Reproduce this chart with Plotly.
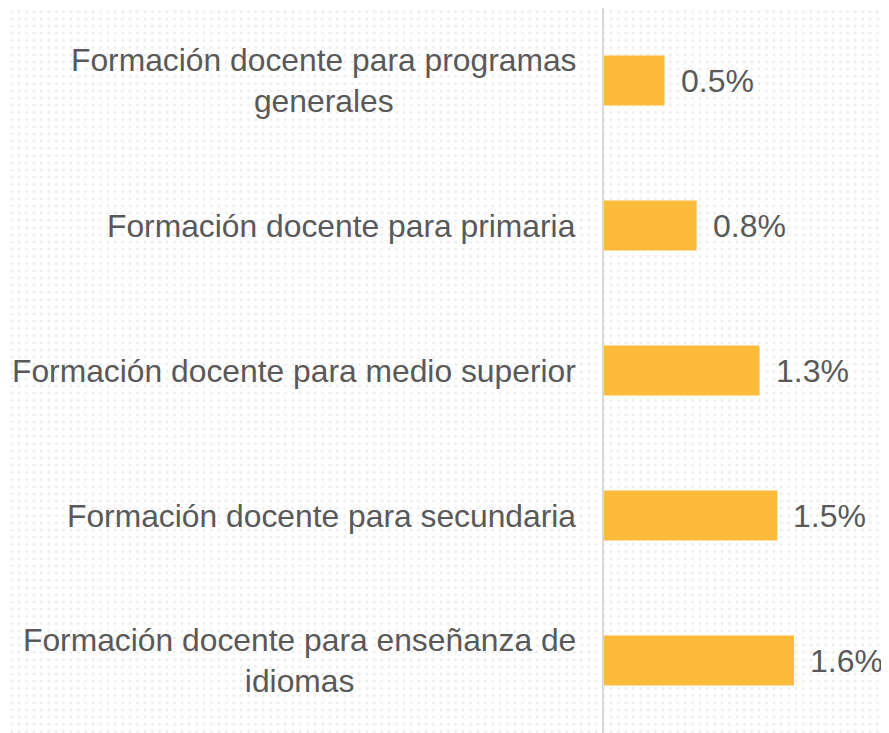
import base64

import plotly.graph_objects as go

categories = [
    "Formación docente para enseñanza de<br>idiomas",
    "Formación docente para secundaria",
    "Formación docente para medio superior",
    "Formación docente para primaria",
    "Formación docente para programas<br>generales",
]
values = [1.6, 1.46, 1.31, 0.78, 0.51]
labels = ["1.6%", "1.5%", "1.3%", "0.8%", "0.5%"]

BAR = "#FDBB3B"
TEXT = "#595959"
FONT = "Liberation Sans, Arial, sans-serif"

# page body has an 8px margin, so the figure is 8px smaller each way
W, H = 881, 725
L = 596

# faint dotted background, as in the original slide
svg = (
    f'<svg xmlns="http://www.w3.org/2000/svg" width="{W}" height="{H}">'
    '<defs><pattern id="d" width="7.4" height="7.2" patternUnits="userSpaceOnUse">'
    '<circle cx="3.7" cy="3.6" r="1.5" fill="#ececec"/></pattern></defs>'
    f'<rect width="{W}" height="{H}" fill="url(#d)"/></svg>'
)
bg = "data:image/svg+xml;base64," + base64.b64encode(svg.encode()).decode()

fig = go.Figure()

fig.add_trace(
    go.Bar(
        x=values,
        y=categories,
        orientation="h",
        marker=dict(color=BAR, line=dict(width=0)),
        width=0.345,
        hoverinfo="skip",
    )
)

# value labels to the right of each bar
for v, c, t in zip(values, categories, labels):
    fig.add_annotation(
        x=v,
        y=c,
        text=t,
        showarrow=False,
        xanchor="left",
        xshift=14,
        font=dict(size=32, color=TEXT, family=FONT),
    )

# category labels, centred when wrapped on two lines
for c in categories:
    fig.add_annotation(
        x=0,
        y=c,
        text=c,
        showarrow=False,
        xanchor="right",
        align="center",
        xshift=-26,
        font=dict(size=31.8, color=TEXT, family=FONT),
    )

fig.update_layout(
    width=W,
    height=H,
    margin=dict(l=L, r=0, t=0, b=0),
    paper_bgcolor="white",
    plot_bgcolor="rgba(0,0,0,0)",
    showlegend=False,
    font=dict(family=FONT, size=32, color=TEXT),
    images=[
        dict(
            source=bg,
            xref="paper",
            yref="paper",
            x=-L / (W - L),
            y=1,
            sizex=W / (W - L),
            sizey=1,
            xanchor="left",
            yanchor="top",
            sizing="stretch",
            layer="below",
        )
    ],
    xaxis=dict(
        range=[0, 2.4],
        visible=False,
        fixedrange=True,
    ),
    yaxis=dict(
        showgrid=False,
        showline=True,
        linecolor="#d9d9d9",
        linewidth=2,
        ticks="",
        showticklabels=False,
        automargin=False,
        fixedrange=True,
    ),
)

fig.write_html("out.html")
